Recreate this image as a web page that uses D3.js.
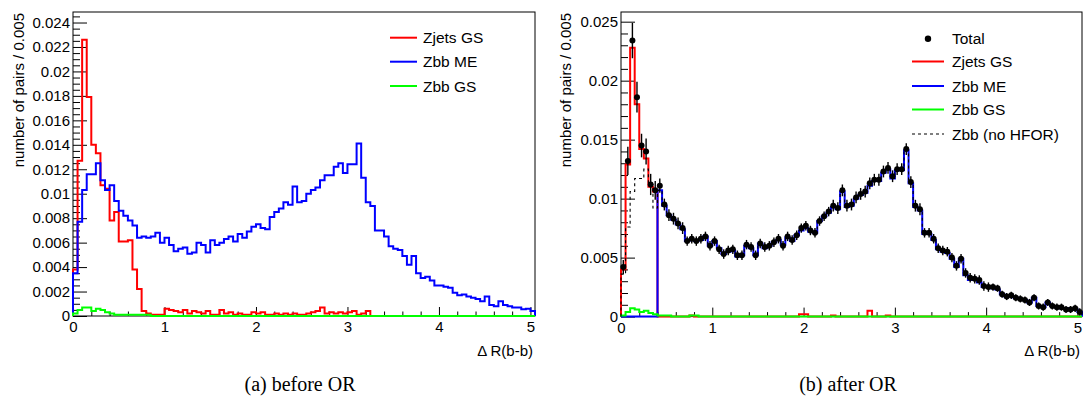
<!DOCTYPE html>
<html>
<head>
<meta charset="utf-8">
<script src="https://cdn.jsdelivr.net/npm/d3@7"></script>
<style>
  html, body { margin: 0; padding: 0; background: #fff; }
  svg { display: block; font-family: "Liberation Sans", Arial, Helvetica, sans-serif; }
</style>
</head>
<body>
<svg id="chart" width="1083" height="401"></svg>
<script>
// ---------------------------------------------------------------------------
// ΔR(b-b) distributions, 101 bins of width 0.05 starting at 0
// ---------------------------------------------------------------------------
const binWidth = 0.05;
const xMax = 5.05;

// (a) before overlap removal
const zjetsGSBefore = [
  0.0038, 0.0127, 0.0226, 0.0179, 0.0140, 0.0133, 0.0107, 0.0104, 0.0078, 0.0085,
  0.0061, 0.0061, 0.0062, 0.0038, 0.0022, 0.0004, 0.0002, 0.0001, 0.0001, 0.0001,
  0.0006, 0.0005, 0.0004, 0.0003, 0.0005, 0.0002, 0.0004, 0.0003, 0.0002, 0.0004,
  0.0001, 0.0001, 0.0005, 0.0002, 0.0003, 0.0001, 0.0002, 0.0001, 0.0001, 0.0003,
  0.0002, 0.0003, 0.0001, 0.0001, 0.0002, 0.0001, 0.0002, 0.0001, 0.0002, 0.0001,
  0.0001, 0.0002, 0.0003, 0.0004, 0.0007, 0.0002, 0.0003, 0.0002, 0.0003, 0.0002,
  0.0003, 0.0004, 0.0001, 0.0002, 0.0004, 0, 0, 0, 0, 0,
  0, 0, 0, 0, 0, 0, 0, 0, 0, 0,
  0, 0, 0, 0, 0, 0, 0, 0, 0, 0,
  0, 0, 0, 0, 0, 0, 0, 0, 0, 0,
  0
];

// Zbb ME below ΔR = 0.4 (bins 0-7)
const zbbMELow = [0.0035, 0.0077, 0.0103, 0.0116, 0.0116, 0.0125, 0.0111, 0.0103];
// Zbb ME from ΔR = 0.4 upwards (bins 8-100), unchanged by the overlap removal
const zbbMEHigh = [
  0.0107, 0.0094,
  0.0086, 0.0082, 0.0078, 0.0074, 0.0064, 0.0065, 0.0064, 0.0065, 0.0068, 0.0060,
  0.0064, 0.0058, 0.0053, 0.0055, 0.0056, 0.0051, 0.0052, 0.0060, 0.0058, 0.0052,
  0.0062, 0.0058, 0.0060, 0.0063, 0.0065, 0.0061, 0.0067, 0.0064, 0.0069, 0.0073,
  0.0075, 0.0072, 0.0071, 0.0081, 0.0085, 0.0088, 0.0093, 0.0091, 0.0106, 0.0093,
  0.0094, 0.0100, 0.0103, 0.0105, 0.0111, 0.0115, 0.0115, 0.0122, 0.0125, 0.0117,
  0.0124, 0.0124, 0.0141, 0.0113, 0.0093, 0.0090, 0.0070, 0.0070, 0.0065, 0.0057,
  0.0055, 0.0054, 0.0049, 0.0042, 0.0049, 0.0035, 0.0031, 0.0032, 0.0029, 0.0025,
  0.0025, 0.0024, 0.0023, 0.0019, 0.0017, 0.00175, 0.0016, 0.0015, 0.0014, 0.0012,
  0.0016, 0.0009, 0.0008, 0.0012, 0.0009, 0.0008, 0.0007, 0.0007, 0.00055, 0.0006,
  0.0004
];
const zbbMEBefore = zbbMELow.concat(zbbMEHigh);

const zbbGSBefore = [
  0.0002, 0.0005, 0.0007, 0.0007, 0.0004, 0.0006, 0.0005, 0.0003, 0.0002, 0.0001,
  0.0001, 0.0001, 0.0001, 0.0001, 0.0001, 0.0001, 0.0001, 0, 0, 0,
  0, 0, 0, 0, 0, 0, 0, 0, 0, 0,
  0, 0, 0, 0, 0, 0, 0, 0, 0, 0,
  0, 0, 0, 0, 0, 0, 0, 0, 0, 0,
  0, 0, 0, 0, 0, 0, 0, 0, 0, 0,
  0, 0, 0, 0, 0, 0, 0, 0, 0, 0,
  0, 0, 0, 0, 0, 0, 0, 0, 0, 0,
  0, 0, 0, 0, 0, 0, 0, 0, 0, 0,
  0, 0, 0, 0, 0, 0, 0, 0, 0, 0,
  0
];

// (b) after overlap removal
const zjetsGSAfter = [
  0.0040, 0.0129, 0.0228, 0.0180, 0.0142, 0.0134, 0.0110, 0.0106, 0, 0,
  0, 0, 0, 0, 0, 0.0001, 0, 0, 0, 0,
  0, 0, 0, 0, 0, 0, 0, 0, 0, 0,
  0, 0, 0, 0, 0, 0, 0, 0, 0, 0.0002,
  0.0002, 0, 0, 0, 0, 0, 0.0001, 0, 0, 0,
  0, 0, 0, 0, 0.0005, 0, 0, 0, 0.0001, 0,
  0, 0, 0, 0, 0, 0, 0, 0, 0, 0,
  0, 0, 0, 0, 0, 0, 0, 0, 0, 0,
  0, 0, 0, 0, 0, 0, 0, 0, 0, 0,
  0, 0, 0, 0, 0, 0, 0, 0, 0, 0,
  0
];

// Zbb ME is emptied below ΔR = 0.4 by the overlap removal
const zbbMEAfterLow = [0, 0, 0, 0, 0, 0, 0, 0];
const zbbMEAfter = zbbMEAfterLow.concat(zbbMEHigh);

const zbbGSAfter = [
  0.0001, 0.0004, 0.0007, 0.0006, 0.0004, 0.0005, 0.0003, 0.0002, 0.0001, 0.0001,
  0.0001, 0, 0, 0, 0, 0.0001, 0.0001, 0, 0, 0,
  0, 0, 0, 0, 0, 0, 0, 0, 0, 0,
  0, 0, 0, 0, 0, 0, 0, 0, 0, 0,
  0, 0, 0, 0, 0, 0, 0, 0, 0, 0,
  0, 0, 0, 0, 0, 0, 0, 0, 0, 0,
  0, 0, 0, 0, 0, 0, 0, 0, 0, 0,
  0, 0, 0, 0, 0, 0, 0, 0, 0, 0,
  0, 0, 0, 0, 0, 0, 0, 0, 0, 0,
  0, 0, 0, 0, 0, 0, 0, 0, 0, 0,
  0
];

// Zbb without heavy-flavour overlap removal: own values below 0.4, ME shape above
const zbbNoHforLow = [0.0036, 0.0076, 0.0106, 0.0117, 0.0117, 0.0125, 0.0112, 0.0092];
const zbbNoHfor = zbbNoHforLow.concat(zbbMEHigh);

// Total after overlap removal, with statistical uncertainties
const totalAfter = [
  0.0042, 0.0132, 0.0234, 0.0186, 0.0145, 0.0140, 0.0112, 0.0107, 0.0111, 0.0095,
  0.0086, 0.0083, 0.0079, 0.0075, 0.0064, 0.0066, 0.0064, 0.0066, 0.0068, 0.0060,
  0.0064, 0.0057, 0.0053, 0.0056, 0.0057, 0.0052, 0.0052, 0.0061, 0.0059, 0.0052,
  0.0062, 0.0059, 0.0060, 0.0063, 0.0066, 0.0060, 0.0068, 0.0065, 0.0069, 0.0075,
  0.0077, 0.0073, 0.0071, 0.0081, 0.0085, 0.0089, 0.0094, 0.0092, 0.0107, 0.0094,
  0.0095, 0.0101, 0.0104, 0.0106, 0.0113, 0.0116, 0.0116, 0.0123, 0.0126, 0.0119,
  0.0125, 0.0125, 0.0142, 0.0114, 0.0094, 0.0091, 0.0071, 0.0071, 0.0066, 0.0058,
  0.0056, 0.0055, 0.0050, 0.0043, 0.0049, 0.0037, 0.0033, 0.0032, 0.0031, 0.0026,
  0.0025, 0.0025, 0.0024, 0.0019, 0.0017, 0.0018, 0.0016, 0.0015, 0.0014, 0.0012,
  0.0016, 0.0009, 0.0008, 0.0012, 0.0009, 0.0008, 0.0008, 0.0006, 0.0006, 0.0007,
  0.0004
];
const totalErr = [
  0.0006, 0.0012, 0.0015, 0.0013, 0.0010, 0.0011, 0.0009, 0.0008, 0.0006, 0.0005,
  0.0005, 0.0005, 0.0005, 0.0005, 0.0004, 0.0004, 0.0004, 0.0004, 0.0004, 0.0004,
  0.0004, 0.0004, 0.0004, 0.0004, 0.0004, 0.0004, 0.0004, 0.0004, 0.0004, 0.0004,
  0.0004, 0.0004, 0.0004, 0.0004, 0.0004, 0.0004, 0.0004, 0.0004, 0.0004, 0.0004,
  0.0004, 0.0004, 0.0004, 0.0004, 0.0004, 0.0004, 0.0005, 0.0005, 0.0005, 0.0005,
  0.0005, 0.0005, 0.0005, 0.0005, 0.0005, 0.0005, 0.0005, 0.0005, 0.0005, 0.0005,
  0.0005, 0.0005, 0.0005, 0.0005, 0.0005, 0.0005, 0.0004, 0.0004, 0.0004, 0.0004,
  0.0004, 0.0004, 0.0004, 0.0004, 0.0004, 0.0004, 0.0004, 0.0004, 0.0004, 0.0004,
  0.0004, 0.0003, 0.0003, 0.0003, 0.0003, 0.0003, 0.0003, 0.0003, 0.0003, 0.0003,
  0.0003, 0.0003, 0.0003, 0.0003, 0.0003, 0.0003, 0.0003, 0.0003, 0.0003, 0.0003,
  0.0003
];

// Axis ticks and labels
const xTicks = [0, 1, 2, 3, 4, 5];
const leftYTicks = [0, 0.002, 0.004, 0.006, 0.008, 0.01, 0.012, 0.014, 0.016, 0.018, 0.02, 0.022, 0.024];
const rightYTicks = [0, 0.005, 0.01, 0.015, 0.02, 0.025];
const xTitle = "\u0394 R(b-b)";
const yTitle = "number of pairs / 0.005";
const captions = ["(a) before OR", "(b) after OR"];

// ---------------------------------------------------------------------------
const RED = "#ff0000", BLUE = "#0000ff", GREEN = "#00ff00";
const svg = d3.select("#chart");

function fmtTick(d) {
  return d === 0 ? "0" : String(+d.toFixed(4));
}

function histPoints(values) {
  const pts = [[0, 0]];
  values.forEach((v, i) => pts.push([i * binWidth, v]));
  pts.push([values.length * binWidth, 0]);
  return pts;
}

function drawPanel(cfg) {
  const g = svg.append("g");
  const x = d3.scaleLinear().domain([0, xMax]).range([cfg.x0, cfg.x1]);
  const y = d3.scaleLinear().domain([0, cfg.yMax]).range([cfg.yBottom, cfg.yTop]);

  // frame
  g.append("rect")
    .attr("x", cfg.x0).attr("y", cfg.yTop)
    .attr("width", cfg.x1 - cfg.x0).attr("height", cfg.yBottom - cfg.yTop)
    .attr("fill", "none").attr("stroke", "#000").attr("stroke-width", 1);

  // x axis: majors, then minors every 0.2
  const xMinor = d3.range(0, Math.floor(xMax / 0.2) + 1).map(i => +(i * 0.2).toFixed(2))
    .filter(v => Math.abs(v - Math.round(v)) > 1e-6 && v <= xMax);
  const xAxisG = g.append("g").attr("transform", `translate(0,${cfg.yBottom})`);
  xAxisG.call(d3.axisBottom(x).tickValues(xTicks).tickFormat(d3.format("d"))
      .tickSize(-9).tickPadding(5.5))
    .call(a => a.select(".domain").remove());
  xAxisG.selectAll("text").attr("font-size", 15).attr("fill", "#000")
    .attr("font-family", "Liberation Sans, Arial, sans-serif");
  g.append("g").attr("transform", `translate(0,${cfg.yBottom})`)
    .call(d3.axisBottom(x).tickValues(xMinor).tickFormat("").tickSize(-4.5))
    .call(a => a.select(".domain").remove());

  // y axis: majors and minors
  const nMinor = Math.floor(cfg.yMax / cfg.yMinorStep + 1e-9);
  const yMinor = d3.range(0, nMinor + 1).map(i => i * cfg.yMinorStep)
    .filter(v => !cfg.yTicks.some(t => Math.abs(t - v) < 1e-9));
  const yAxisG = g.append("g").attr("transform", `translate(${cfg.x0},0)`);
  yAxisG.call(d3.axisLeft(y).tickValues(cfg.yTicks).tickFormat(fmtTick)
      .tickSize(-14).tickPadding(3))
    .call(a => a.select(".domain").remove());
  yAxisG.selectAll("text").attr("font-size", 15).attr("fill", "#000")
    .attr("font-family", "Liberation Sans, Arial, sans-serif");
  g.append("g").attr("transform", `translate(${cfg.x0},0)`)
    .call(d3.axisLeft(y).tickValues(yMinor).tickFormat("").tickSize(-7))
    .call(a => a.select(".domain").remove());
  g.selectAll(".tick line").attr("stroke", "#000").attr("stroke-width", 1);

  // axis titles
  g.append("text")
    .attr("x", cfg.x1 - 2).attr("y", 356)
    .attr("text-anchor", "end").attr("font-size", 15).text(xTitle);
  g.append("text")
    .attr("transform", `translate(${cfg.yTitleX},${cfg.yTop + 1}) rotate(-90)`)
    .attr("text-anchor", "end").attr("font-size", 15).text(yTitle);

  // histograms
  const line = d3.line().x(d => x(d[0])).y(d => y(d[1])).curve(d3.curveStepAfter);
  cfg.series.forEach(s => {
    g.append("path")
      .attr("d", line(histPoints(s.values)))
      .attr("fill", "none")
      .attr("stroke", s.color)
      .attr("stroke-width", s.width || 2)
      .attr("stroke-dasharray", s.dash || null);
  });

  // data points with error bars
  if (cfg.points) {
    const p = cfg.points;
    const pg = g.append("g");
    p.values.forEach((v, i) => {
      const cx = x((i + 0.5) * binWidth);
      pg.append("line")
        .attr("x1", cx).attr("x2", cx)
        .attr("y1", y(v - p.errors[i])).attr("y2", y(v + p.errors[i]))
        .attr("stroke", "#000").attr("stroke-width", 1.4);
      pg.append("circle").attr("cx", cx).attr("cy", y(v)).attr("r", 3).attr("fill", "#000");
    });
  }

  // legend
  const lg = g.append("g");
  cfg.legend.forEach((e, i) => {
    const cy = cfg.legendY[i];
    if (e.marker) {
      lg.append("circle").attr("cx", (cfg.legendX0 + cfg.legendX1) / 2).attr("cy", cy)
        .attr("r", 3.2).attr("fill", "#000");
    } else {
      lg.append("line")
        .attr("x1", cfg.legendX0).attr("x2", cfg.legendX1)
        .attr("y1", cy).attr("y2", cy)
        .attr("stroke", e.color).attr("stroke-width", e.width || 2)
        .attr("stroke-dasharray", e.dash || null);
    }
    lg.append("text")
      .attr("x", cfg.legendText).attr("y", cy + 5.5)
      .attr("font-size", 15.5).text(e.label);
  });
}

drawPanel({
  x0: 73, x1: 535, yTop: 12, yBottom: 316, yMax: 0.02486,
  yTicks: leftYTicks, yMinorStep: 0.0005, yTitleX: 24,
  series: [
    { values: zjetsGSBefore, color: RED },
    { values: zbbMEBefore, color: BLUE },
    { values: zbbGSBefore, color: GREEN }
  ],
  legendX0: 390, legendX1: 417, legendText: 423,
  legendY: [37.7, 61.7, 86],
  legend: [
    { label: "Zjets GS", color: RED },
    { label: "Zbb ME", color: BLUE },
    { label: "Zbb GS", color: GREEN }
  ]
});

drawPanel({
  x0: 621, x1: 1082, yTop: 12, yBottom: 316.6, yMax: 0.02582,
  yTicks: rightYTicks, yMinorStep: 0.001, yTitleX: 571,
  series: [
    { values: zjetsGSAfter, color: RED },
    { values: zbbMEAfter, color: BLUE },
    { values: zbbGSAfter, color: GREEN },
    { values: zbbNoHfor, color: "#000", width: 1.1, dash: "3,3" }
  ],
  points: { values: totalAfter, errors: totalErr },
  legendX0: 912, legendX1: 944, legendText: 952,
  legendY: [38.7, 61.5, 86, 109.5, 134],
  legend: [
    { label: "Total", marker: true },
    { label: "Zjets GS", color: RED },
    { label: "Zbb ME", color: BLUE },
    { label: "Zbb GS", color: GREEN },
    { label: "Zbb (no HFOR)", color: "#000", width: 1.2, dash: "3,3" }
  ]
});

// sub-figure captions
svg.selectAll("text.caption")
  .data(captions)
  .enter().append("text")
  .attr("class", "caption")
  .attr("x", (d, i) => i === 0 ? 300 : 848)
  .attr("y", 391)
  .attr("text-anchor", "middle")
  .attr("font-family", "Liberation Serif, Times New Roman, serif")
  .attr("font-size", 20)
  .text(d => d);
</script>
</body>
</html>
